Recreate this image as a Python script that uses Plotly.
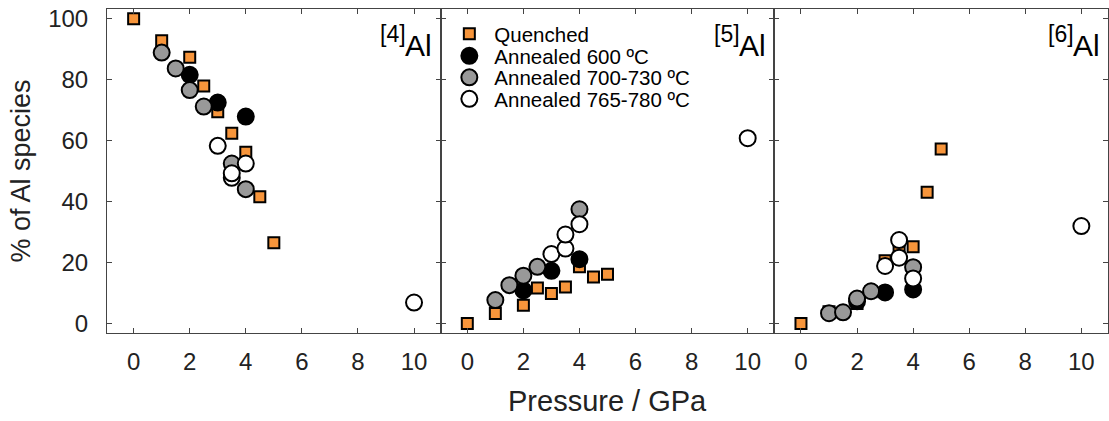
import plotly.graph_objects as go
from plotly.subplots import make_subplots

# ---- data ----
panel_labels = ["[4]", "[5]", "[6]"]

quenched_x = [0, 1, 2, 2.5, 3, 3.5, 4, 4.5, 5]
quenched_4 = [100, 92.8, 87.4, 77.9, 69.5, 62.4, 56.2, 41.6, 26.5]
quenched_5 = [0, 3.3, 6.0, 11.7, 9.9, 12.0, 18.6, 15.3, 16.2]
quenched_6 = [0, 3.9, 6.6, 10.4, 20.6, 25.6, 25.2, 43.1, 57.3]

a600_x = [2, 3, 4]
a600_4 = [81.6, 72.5, 67.9]
a600_5 = [10.9, 17.3, 21.1]
a600_6 = [7.3, 10.2, 11.2]

a700_x4 = [1, 1.5, 2, 2.5, 3.5, 4]
a700_4 = [88.9, 83.7, 76.6, 71.2, 52.5, 44.1]
a700_x = [1, 1.5, 2, 2.5, 4]
a700_5 = [7.7, 12.6, 15.7, 18.6, 37.5]
a700_6 = [3.4, 3.7, 8.2, 10.6, 18.5]

a765_x = [3, 3.5, 3.5, 4, 10]
a765_4 = [58.3, 47.8, 49.3, 52.5, 6.9]
a765_5 = [22.8, 24.6, 29.2, 32.6, 60.8]
a765_6 = [18.9, 27.4, 21.6, 14.8, 32.0]

x_ticks = [0, 2, 4, 6, 8, 10]
y_ticks = [0, 20, 40, 60, 80, 100]

FONT = "Liberation Sans, Arial, Helvetica, sans-serif"
ORANGE = "#F7953B"
GRAY = "#999999"

series = [
    ("Quenched", "square", ORANGE, 11, [(quenched_x, quenched_4), (quenched_x, quenched_5), (quenched_x, quenched_6)]),
    ("Annealed 600 ºC", "circle", "black", 16, [(a600_x, a600_4), (a600_x, a600_5), (a600_x, a600_6)]),
    ("Annealed 700-730 ºC", "circle", GRAY, 16, [(a700_x4, a700_4), (a700_x, a700_5), (a700_x, a700_6)]),
    ("Annealed 765-780 ºC", "circle", "white", 16, [(a765_x, a765_4), (a765_x, a765_5), (a765_x, a765_6)]),
]

legend_ids = ["legend", "legend2", "legend3", "legend4"]
legend_rows_px = [34, 56, 77.5, 99]

fig = make_subplots(rows=1, cols=3, shared_yaxes=True, horizontal_spacing=0)

for k, (name, sym, col, size, data) in enumerate(series):
    for i, (xs, ys) in enumerate(data):
        fig.add_trace(go.Scatter(
            x=xs, y=ys, mode="markers", name=name,
            legend=legend_ids[k], showlegend=(i == 0),
            marker=dict(symbol=sym, color=col, size=size,
                        line=dict(color="black", width=2)),
        ), row=1, col=i + 1)

axis_common = dict(showline=True, linecolor="#444", linewidth=1, mirror="ticks",
                   ticks="inside", ticklen=5, tickcolor="#444", showgrid=False,
                   zeroline=False, tickfont=dict(family=FONT, size=24, color="#222"))

for i in range(3):
    fig.update_xaxes(range=[-0.95, 10.95], tickvals=x_ticks, ticklabelstandoff=7,
                     row=1, col=i + 1, **axis_common)
    fig.update_yaxes(range=[-3.1, 103.2], tickvals=y_ticks, ticklabelstandoff=13,
                     row=1, col=i + 1, **axis_common)
    xref = "x domain" if i == 0 else f"x{i+1} domain"
    yref = "y domain" if i == 0 else f"y{i+1} domain"
    fig.add_annotation(text="Al", xref=xref, yref=yref,
                       x=0.981, y=0.887, xanchor="right", yanchor="middle", showarrow=False,
                       font=dict(family=FONT, size=30, color="black"))
    fig.add_annotation(text=panel_labels[i], xref=xref, yref=yref,
                       x=0.903, y=0.924, xanchor="right", yanchor="middle", showarrow=False,
                       font=dict(family=FONT, size=23, color="black"))

fig.update_yaxes(title=dict(text="% of Al species", font=dict(family=FONT, size=27, color="#222"),
                            standoff=9), row=1, col=1)

fig.add_annotation(text="Pressure / GPa", xref="paper", yref="paper", x=0.5, y=0,
                   yshift=-68, xanchor="center", yanchor="middle", showarrow=False,
                   font=dict(family=FONT, size=29, color="#222"))

PLOT_TOP, PLOT_H = 9, 324
layout_legends = {}
for lid, py in zip(legend_ids, legend_rows_px):
    layout_legends[lid] = dict(x=0.337, y=1 - (py - PLOT_TOP) / PLOT_H,
                               xanchor="left", yanchor="middle",
                               font=dict(family=FONT, size=20.5, color="black"),
                               bgcolor="rgba(0,0,0,0)", itemwidth=40)

fig.update_layout(
    width=1109, height=421,
    margin=dict(l=107, r=1, t=9, b=88),
    paper_bgcolor="white", plot_bgcolor="white",
    **layout_legends,
)

fig.write_html("out.html", config={"displayModeBar": False},
               post_script="document.body.style.margin='0px';")
